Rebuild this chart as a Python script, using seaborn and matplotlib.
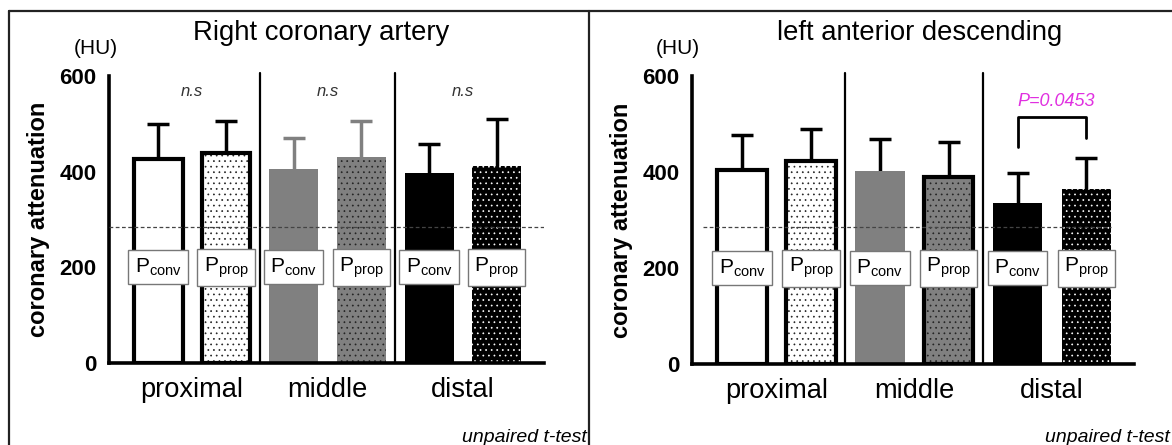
import seaborn as sns
import pandas as pd
import numpy as np
import matplotlib.pyplot as plt
from matplotlib.lines import Line2D

# data (HU)
segments = ['proximal', 'middle', 'distal']
methods = ['conv', 'prop']

rca_conv = [427, 406, 398]
rca_prop = [439, 431, 412]
rca_conv_sd = [73, 65, 60]
rca_prop_sd = [67, 75, 98]

lad_conv = [404, 402, 335]
lad_prop = [423, 390, 365]
lad_conv_sd = [73, 66, 63]
lad_prop_sd = [67, 72, 64]

threshold = 285
titles = ['Right coronary artery', 'left anterior descending']
rca_marks = ['n.s', 'n.s', 'n.s']
lad_p_text = 'P=0.0453'

sns.set_theme(style='white')
plt.rcParams['font.family'] = ['Liberation Sans', 'DejaVu Sans']
plt.rcParams['mathtext.fontset'] = 'custom'
plt.rcParams['mathtext.rm'] = 'Liberation Sans'
plt.rcParams['mathtext.it'] = 'Liberation Sans:italic'
plt.rcParams['hatch.linewidth'] = 0.5
for k in ['text.color', 'axes.labelcolor', 'xtick.color', 'ytick.color']:
    plt.rcParams[k] = 'black'

W, H = 1172, 445
fig = plt.figure(figsize=(W / 100, H / 100), dpi=100)


def px_axes(x0, x1, ytop, ybot):
    return fig.add_axes([x0 / W, 1 - ybot / H, (x1 - x0) / W, (ybot - ytop) / H])


fills = ['white', '#808080', 'black']
dot_colors = ['#222222', '#222222', 'white']


def draw_panel(ax, conv, prop, conv_sd, prop_sd, xlim, title, tx, hu_x, mid_edge, mid_err, dash_x):
    df = pd.DataFrame({
        'segment': segments * 2,
        'method': ['conv'] * 3 + ['prop'] * 3,
        'value': conv + prop,
    })
    sns.barplot(data=df, x='segment', y='value', hue='method', order=segments,
                hue_order=methods, width=1.0, gap=0.28, dodge=True,
                errorbar=None, legend=False, ax=ax, zorder=2)
    sds = {'conv': conv_sd, 'prop': prop_sd}
    for k, (m, cont) in enumerate(zip(methods, ax.containers)):
        for i, p in enumerate(cont.patches):
            x = p.get_x() + p.get_width() / 2
            h = p.get_height()
            w = p.get_width()
            p.set_facecolor(fills[i])
            p.set_linewidth(0)
            if m == 'prop':
                p.set_hatch('...')
                p.set_edgecolor(dot_colors[i])
            # outline
            if i == 0 or (i == 1 and m == 'prop' and mid_edge == 'black'):
                ax.bar(x, h, width=w, fill=False, edgecolor='black', linewidth=3, zorder=3)
            ecol = '#808080' if (i == 1 and mid_err == 'gray') else 'black'
            eb = ax.errorbar(x, h, yerr=[[0], [sds[m][i]]], fmt='none', ecolor=ecol,
                             elinewidth=2.5, capsize=8, capthick=2.5, zorder=1)
            eb[1][0].set_visible(False)
            ax.text(x, 200, r'P$_{\mathrm{' + m + '}}$', ha='center', va='center',
                    fontsize=15, zorder=5,
                    bbox=dict(boxstyle='square,pad=0.3', fc='white', ec='#777777', lw=1))

    for sx in [0.5, 1.5]:
        ax.plot([sx, sx], [0, 606], color='black', lw=1.6, clip_on=False, zorder=4)
    ax.plot(dash_x, [threshold, threshold], color='#444444', lw=0.9,
            ls=(0, (3, 2)), zorder=4)

    ax.set_xlim(*xlim)
    ax.set_ylim(0, 600)
    ax.set_yticks([0, 200, 400, 600])
    ax.set_yticklabels(['0', '200', '400', '600'], fontweight='bold', fontsize=16)
    xt = [c + d for c in range(3) for d in (-0.25, 0.25)]
    ax.set_xticks(xt)
    ax.set_xticklabels([''] * 6)
    for c, s in enumerate(segments):
        ax.text(c, -0.094, s, transform=ax.get_xaxis_transform(), ha='center',
                va='center', fontsize=19.6)
    ax.tick_params(axis='both', direction='out', length=7, width=2.5, color='black', pad=2)
    ax.tick_params(axis='x', length=8)
    sns.despine(ax=ax)
    for s in ['left', 'bottom']:
        ax.spines[s].set_linewidth(2.6)
        ax.spines[s].set_color('black')
    ax.set_xlabel('')
    ax.set_ylabel('coronary attenuation', fontsize=17, fontweight='bold', labelpad=7)
    ax.set_facecolor('none')
    fig.text(tx / W, 1 - 33 / H, title, ha='center', va='center', fontsize=19.8)
    fig.text(hu_x / W, 1 - 48 / H, '(HU)', ha='center', va='center', fontsize=15)


ax1 = px_axes(109, 544, 76, 363)
draw_panel(ax1, rca_conv, rca_prop, rca_conv_sd, rca_prop_sd, (-0.613, 2.598),
           titles[0], 321, 96, 'gray', 'gray', [-0.613, 2.598])
for c, t in enumerate(rca_marks):
    ax1.text(c, 567, t, ha='center', va='center', fontsize=12, style='italic', color='#333333')

ax2 = px_axes(692, 1134, 76, 364)
draw_panel(ax2, lad_conv, lad_prop, lad_conv_sd, lad_prop_sd, (-0.613, 2.595),
           titles[1], 920, 678, 'black', 'black', [-0.53, 2.43])
ax2.plot([1.75, 1.75, 2.25, 2.25], [452, 515, 515, 470], color='black', lw=2, zorder=4)
ax2.text(2.03, 546, lad_p_text, ha='center', va='center', fontsize=13,
         style='italic', color='#e030e0')

fig.text(587 / W, 1 - 437 / H, 'unpaired t-test', ha='right', va='center',
         fontsize=14, style='italic')
fig.text(1170 / W, 1 - 437 / H, 'unpaired t-test', ha='right', va='center',
         fontsize=14, style='italic')

# panel frames
for xs, ys in [([9 / W, 1], [1 - 11 / H] * 2), ([9 / W] * 2, [0, 1 - 11 / H]),
               ([589 / W] * 2, [0, 1 - 11 / H])]:
    fig.add_artist(Line2D(xs, ys, color='#222222', lw=1.6, transform=fig.transFigure))

fig.savefig('out.png', dpi=100, facecolor='white')
